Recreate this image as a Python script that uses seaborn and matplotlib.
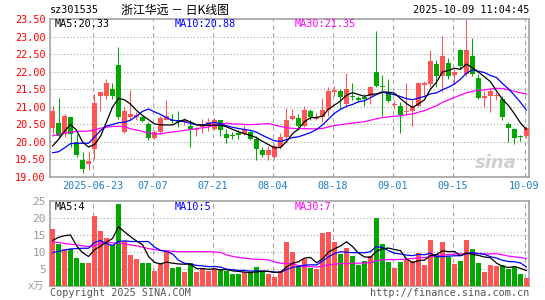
import numpy as np
import pandas as pd
import matplotlib
matplotlib.use("Agg")
import matplotlib.pyplot as plt
import seaborn as sns

# ---------------- data ----------------
opens = [20.40, 20.54, 20.23, 20.70, 20.00, 19.49, 19.38, 19.81, 21.30, 21.30,
         21.51, 22.20, 20.28, 20.72, 20.70, 20.71, 20.51, 20.11, 20.28, 20.63,
         20.63, 20.61, 20.56, 20.44, 20.33, 20.42, 20.46, 20.37, 20.61, 20.23,
         20.20, 20.25, 20.23, 20.28, 20.09, 19.76, 19.62, 19.57, 19.85, 20.14,
         20.66, 20.68, 20.44, 20.89, 20.65, 20.70, 20.91, 21.43, 21.46, 21.08,
         21.31, 21.24, 21.27, 21.32, 21.98, 21.60, 21.41, 21.04, 21.01, 20.86,
         20.87, 21.01, 21.63, 21.65, 22.23, 21.88, 22.26, 21.91, 22.61, 21.93,
         22.45, 21.82, 21.25, 21.32, 21.30, 21.22, 20.51, 20.37, 20.16, 20.18]
closes = [20.89, 20.18, 20.75, 20.23, 19.62, 19.22, 19.45, 21.10, 21.41, 21.67,
          21.32, 20.70, 20.89, 20.80, 20.77, 20.59, 20.12, 20.28, 20.67, 20.75,
          20.59, 20.56, 20.61, 20.33, 20.35, 20.52, 20.56, 20.61, 20.34, 20.12,
          20.16, 20.21, 20.34, 20.09, 19.81, 19.62, 19.76, 19.87, 20.15, 20.63,
          20.75, 20.44, 20.91, 20.70, 20.69, 20.91, 21.46, 21.48, 21.29, 21.51,
          21.27, 21.20, 21.22, 21.55, 21.60, 21.55, 21.16, 21.08, 20.78, 20.89,
          20.99, 21.67, 21.67, 22.29, 21.88, 22.45, 21.88, 21.98, 22.15, 22.62,
          21.93, 21.25, 21.32, 21.44, 21.33, 20.70, 20.40, 20.12, 20.14, 20.40]
highs = [21.03, 21.25, 20.80, 20.72, 20.23, 19.71, 19.73, 21.36, 21.41, 21.79,
         21.67, 22.71, 21.01, 21.49, 20.84, 20.75, 20.56, 20.33, 20.75, 21.20,
         20.80, 20.89, 20.68, 20.61, 20.42, 20.66, 20.68, 20.68, 20.63, 20.37,
         20.28, 20.34, 20.47, 20.33, 20.18, 19.85, 19.87, 19.93, 20.25, 20.97,
         20.94, 20.80, 21.03, 20.94, 20.82, 21.24, 21.55, 21.58, 21.51, 21.95,
         21.67, 21.32, 21.35, 21.60, 23.16, 21.91, 21.79, 21.19, 21.13, 21.67,
         21.18, 21.71, 21.74, 22.62, 22.33, 23.02, 22.40, 22.07, 22.64, 23.50,
         22.95, 21.93, 21.46, 21.51, 21.41, 21.32, 20.56, 20.40, 20.21, 20.44]
lows = [20.23, 20.12, 20.14, 19.85, 19.57, 19.10, 19.19, 19.52, 20.89, 21.22,
        21.22, 20.66, 20.25, 20.61, 20.61, 20.56, 20.04, 20.09, 20.23, 20.61,
        20.53, 20.42, 20.47, 19.85, 20.18, 20.25, 20.30, 20.33, 20.18, 19.97,
        20.09, 20.09, 20.21, 20.04, 19.49, 19.57, 19.49, 19.55, 19.81, 20.09,
        20.61, 20.33, 20.42, 20.61, 20.61, 20.56, 20.75, 21.32, 20.94, 20.99,
        21.18, 21.13, 21.03, 21.08, 21.55, 20.75, 21.13, 20.94, 20.25, 20.80,
        20.44, 20.99, 21.27, 21.55, 21.55, 21.41, 21.79, 21.65, 22.07, 21.88,
        21.88, 21.22, 20.99, 20.85, 21.18, 20.63, 19.99, 19.95, 20.02, 20.12]
volumes = [16.8, 12.4, 10.9, 10.9, 8.2, 6.7, 6.7, 20.7, 16.2, 14.2,
           12.1, 24.0, 13.1, 9.1, 7.9, 6.7, 6.7, 4.4, 6.7, 10.6,
           5.2, 5.5, 4.1, 6.7, 4.1, 5.2, 4.4, 5.0, 5.0, 4.4,
           3.5, 3.5, 4.1, 4.1, 5.5, 4.4, 3.5, 2.6, 4.4, 12.8,
           10.1, 5.8, 7.9, 5.4, 5.0, 15.7, 15.9, 12.8, 9.4, 11.2,
           8.8, 6.1, 7.3, 8.8, 20.1, 12.5, 7.1, 5.2, 7.0, 7.9,
           7.3, 9.8, 6.1, 13.6, 9.4, 12.8, 8.6, 6.4, 7.3, 13.6,
           10.9, 6.7, 4.2, 6.1, 5.8, 6.1, 5.0, 5.6, 3.5, 2.3]

# moving-average values at the left edge (window reaches before the visible range)
ma5_head = [19.88, 20.07, 20.30, 20.50]
ma10_head = [19.69, 19.72, 19.83, 19.95, 19.96, 19.96, 19.96, 20.14, 20.32]
ma30_head = [20.17, 20.22, 20.25, 20.28, 20.30, 20.30, 20.31, 20.34, 20.39, 20.42,
             20.44, 20.44, 20.44, 20.37, 20.34, 20.30, 20.25, 20.23, 20.23, 20.26,
             20.28, 20.30, 20.33, 20.35, 20.38, 20.40, 20.42, 20.49, 20.50]
vma5_head = [13.4, 14.3, 14.8, 15.0]
vma10_head = [9.8, 10.2, 10.6, 10.9, 11.0, 11.1, 11.1, 12.8, 13.4]
vma30_head = [13.0, 12.8, 12.5, 12.3, 12.1, 11.8, 11.6, 11.8, 12.6, 12.8,
              12.7, 12.6, 12.4, 12.1, 11.8, 11.4, 11.0, 10.7, 10.5, 10.3,
              10.2, 10.1, 10.1, 10.1, 10.1, 10.1, 10.1, 10.0, 9.9]

date_labels = ["2025-06-23", "07-07", "07-21", "08-04", "08-18", "09-01", "09-15", "10-09"]
date_index = [7, 17, 27, 37, 47, 57, 67, 79]
price_ticks = [19.0, 19.5, 20.0, 20.5, 21.0, 21.5, 22.0, 22.5, 23.0, 23.5]
vol_ticks = [5, 10, 15, 20, 25]

title_code = "sz301535"
title_name = "浙江华远 － 日K线图"
timestamp = "2025-10-09 11:04:45"
price_ma_text = ["MA5:20.33", "MA10:20.88", "MA30:21.35"]
vol_ma_text = ["MA5:4", "MA10:5", "MA30:7"]

# ---------------- style ----------------
sns.set_style("white")
plt.rcParams["font.family"] = ["DejaVu Sans Mono", "Noto Sans CJK SC"]

RED = "#FF5555"
GREEN = "#00A800"
GRID = "#A8A8A8"
BORDER = "#9A9A9A"

W, H = 545, 300
fig = plt.figure(figsize=(W / 100, H / 100), dpi=100)
fig.patch.set_facecolor("white")

def fx(px):
    return px / W

def fy(py):
    return 1 - py / H

ax1 = fig.add_axes([fx(50), fy(177), fx(479), 158 / H])
ax2 = fig.add_axes([fx(50), fy(286), fx(479), 85 / H])

n = len(closes)
df = pd.DataFrame({"i": np.arange(n), "open": opens, "close": closes,
                   "high": highs, "low": lows, "vol": volumes})

def with_head(series, win, head):
    m = series.rolling(win).mean().to_numpy()
    m[:len(head)] = head
    return m

df["ma5"] = with_head(df["close"], 5, ma5_head)
df["ma10"] = with_head(df["close"], 10, ma10_head)
df["ma30"] = with_head(df["close"], 30, ma30_head)
df["vma5"] = with_head(df["vol"], 5, vma5_head)
df["vma10"] = with_head(df["vol"], 10, vma10_head)
df["vma30"] = with_head(df["vol"], 30, vma30_head)

up = df["close"] >= df["open"]
colors = np.where(up, RED, GREEN)

XL = (-0.417, 79.42)
BW = 0.8

# --- price panel ---
for ax in (ax1, ax2):
    ax.set_xlim(*XL)
    for s in ax.spines.values():
        s.set_color(BORDER)
        s.set_linewidth(1.1)
    ax.tick_params(length=0)
    ax.set_xticks([])
    for di in date_index:
        ax.axvline(di - 0.33, color=GRID, lw=0.8, ls=(0, (4, 3)), zorder=0)

ax1.set_ylim(19.0, 23.5)
for yv in price_ticks[1:-1]:
    ax1.axhline(yv, color=GRID, lw=0.8, ls=(0, (1, 2)), zorder=0)

ax1.vlines(df["i"], df["low"], df["high"], colors=colors, lw=0.75, zorder=2)
body_bottom = np.minimum(df["open"], df["close"])
body_h = np.maximum(np.abs(df["close"] - df["open"]), 0.03)
ax1.bar(df["i"], body_h, bottom=body_bottom, width=BW, color=colors, linewidth=0, zorder=3)

sns.lineplot(data=df, x="i", y="ma30", ax=ax1, color="#FF00FF", lw=0.9, zorder=4)
sns.lineplot(data=df, x="i", y="ma10", ax=ax1, color="#0000FF", lw=0.9, zorder=5)
sns.lineplot(data=df, x="i", y="ma5", ax=ax1, color="#000000", lw=0.9, zorder=6)
ax1.set_xlabel("")
ax1.set_ylabel("")
ax1.set_yticks(price_ticks)
ax1.set_yticklabels([f"{v:.2f}" for v in price_ticks], color="#FF0000", fontsize=7.3)
ax1.tick_params(axis="y", pad=3)

# --- volume panel ---
ax2.set_ylim(0, 25)
for yv in vol_ticks[:-1]:
    ax2.axhline(yv, color=GRID, lw=0.8, ls=(0, (1, 2)), zorder=0)
ax2.bar(df["i"], df["vol"], width=BW, color=colors, linewidth=0, zorder=3)
sns.lineplot(data=df, x="i", y="vma30", ax=ax2, color="#FF00FF", lw=0.9, zorder=4)
sns.lineplot(data=df, x="i", y="vma10", ax=ax2, color="#0000FF", lw=0.9, zorder=5)
sns.lineplot(data=df, x="i", y="vma5", ax=ax2, color="#000000", lw=0.9, zorder=6)
ax2.set_xlabel("")
ax2.set_ylabel("")
ax2.set_yticks(vol_ticks)
ax2.set_yticklabels([str(v) for v in vol_ticks], color="#9A9A9A", fontsize=8)
ax2.tick_params(axis="y", pad=3)

# date labels
for lab, di in zip(date_labels, date_index):
    ax1.text(di - 0.33, -0.055, lab, transform=ax1.get_xaxis_transform(),
             ha="center", va="center", fontsize=7.3, color="#1E7FC8")

# sina watermark
ax1.text(0.975, 0.09, "sina", transform=ax1.transAxes, ha="right", va="center",
         fontsize=13, fontweight="bold", fontstyle="italic", color="#D0D0D0",
         family="DejaVu Sans", zorder=1)

# header texts
fig.text(fx(50), fy(10), title_code, ha="left", va="center", fontsize=7.3, color="black")
fig.text(fx(121), fy(10), title_name, ha="left", va="center", fontsize=8.6,
         color="black", family=["Noto Sans CJK SC", "DejaVu Sans"])
fig.text(fx(529), fy(10), timestamp, ha="right", va="center", fontsize=7.3, color="black")

ma_cols = ["#000000", "#0000FF", "#FF00FF"]
ma_x = [55, 175, 295]
for t, c, xx in zip(price_ma_text, ma_cols, ma_x):
    fig.text(fx(xx), fy(24), t, ha="left", va="center", fontsize=7.3, color=c)
for t, c, xx in zip(vol_ma_text, ma_cols, ma_x):
    fig.text(fx(xx), fy(206.5), t, ha="left", va="center", fontsize=7.3, color=c)

fig.text(fx(44), fy(286), "x万", ha="right", va="center", fontsize=7.3, color="#9A9A9A",
         family=["DejaVu Sans Mono", "Noto Sans CJK SC"])
fig.text(fx(50), fy(293.5), "Copyright 2025 SINA.COM", ha="left", va="center",
         fontsize=7.3, color="#555555")
fig.text(fx(529), fy(293.5), "http://finance.sina.com.cn", ha="right", va="center",
         fontsize=7.3, color="#555555")

fig.savefig("out.png", dpi=100, facecolor="white")
